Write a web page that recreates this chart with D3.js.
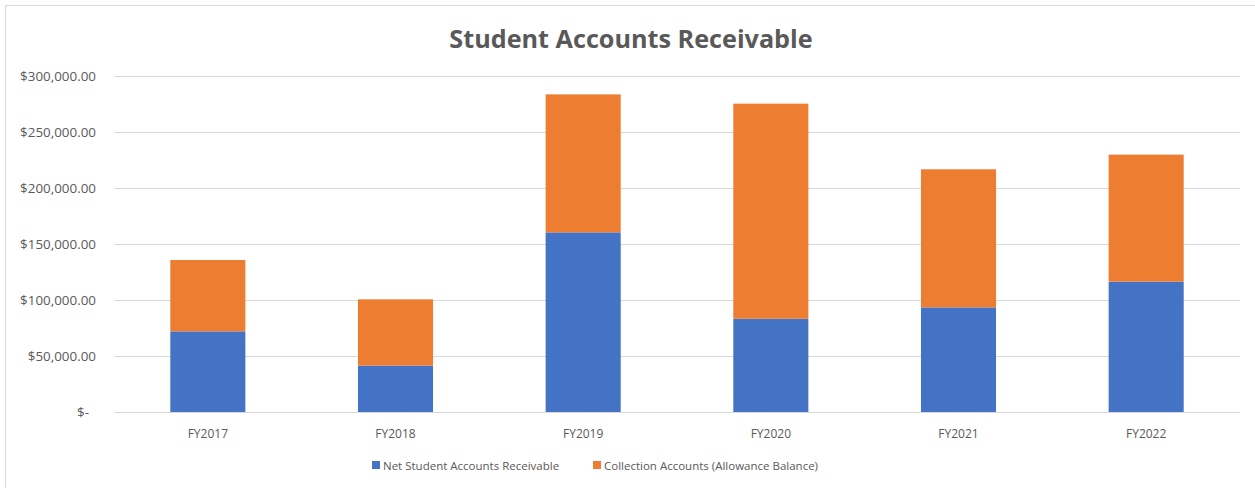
<!DOCTYPE html>
<html>
<head>
<meta charset="utf-8">
<script src="https://cdn.jsdelivr.net/npm/d3@7"></script>
<style>
  body { margin: 0; background: #fff; }
  text { font-family: "Open Sans", "Liberation Sans", sans-serif; fill: #595959; }
</style>
</head>
<body>
<div id="chart"></div>
<script>
const years = ["FY2017", "FY2018", "FY2019", "FY2020", "FY2021", "FY2022"];
const netReceivable = [72000, 41400, 160400, 83300, 93400, 116400];
const collectionAccounts = [63700, 59200, 123200, 192000, 123300, 113400];
const seriesNames = ["Net Student Accounts Receivable", "Collection Accounts (Allowance Balance)"];
const seriesColors = ["#4472c4", "#ed7d31"];
const yTicks = [0, 50000, 100000, 150000, 200000, 250000, 300000];

const width = 1255;
const height = 488;
const margin = { top: 76, right: 15, bottom: 76, left: 114 };

const svg = d3.select("#chart")
    .append("svg")
    .attr("width", width)
    .attr("height", height);

// chart frame (only left/top edges show in the crop)
svg.append("rect")
    .attr("x", 5.5)
    .attr("y", 5.5)
    .attr("width", width + 20)
    .attr("height", height + 20)
    .attr("fill", "none")
    .attr("stroke", "#d9d9d9");

const x = d3.scaleBand()
    .domain(years)
    .range([margin.left, width - margin.right])
    .paddingInner(0.6)
    .paddingOuter(0.3);

const y = d3.scaleLinear()
    .domain([0, 300000])
    .range([height - margin.bottom, margin.top]);

// --- gridlines ---
svg.append("g")
    .selectAll("line")
    .data(yTicks)
    .enter()
    .append("line")
    .attr("x1", margin.left)
    .attr("x2", width - margin.right)
    .attr("y1", d => Math.round(y(d)) + 0.5)
    .attr("y2", d => Math.round(y(d)) + 0.5)
    .attr("stroke", "#d9d9d9")
    .attr("stroke-width", 1);

// --- y axis labels ---
const fmt = d3.format(",.2f");
const yAxis = svg.append("g")
    .attr("transform", `translate(${margin.left - 18},0)`)
    .call(d3.axisLeft(y)
        .tickValues(yTicks)
        .tickSize(0)
        .tickFormat(d => d === 0 ? "$-" : "$" + fmt(d)));
yAxis.select(".domain").remove();
yAxis.selectAll("text")
    .attr("x", d => d === 0 ? -7 : 0)
    .style("font-size", "13.4px")
    .style("fill", "#595959");

// --- stacked bars ---
const rows = years.map((yr, i) => ({ year: yr, net: netReceivable[i], coll: collectionAccounts[i] }));
const stack = d3.stack().keys(["net", "coll"])(rows);

svg.append("g")
    .selectAll("g")
    .data(stack)
    .enter()
    .append("g")
    .attr("fill", (d, i) => seriesColors[i])
    .selectAll("rect")
    .data(d => d)
    .enter()
    .append("rect")
    .attr("x", d => x(d.data.year))
    .attr("width", x.bandwidth())
    .attr("y", d => y(d[1]))
    .attr("height", d => y(d[0]) - y(d[1]));

// --- x axis labels ---
svg.append("g")
    .selectAll("text")
    .data(years)
    .enter()
    .append("text")
    .attr("x", d => x(d) + x.bandwidth() / 2)
    .attr("y", height - margin.bottom + 26)
    .attr("text-anchor", "middle")
    .style("font-size", "12px")
    .text(d => d);

// --- title ---
svg.append("text")
    .attr("x", 631)
    .attr("y", 48)
    .attr("text-anchor", "middle")
    .style("font-size", "25.2px")
    .style("font-weight", "bold")
    .text("Student Accounts Receivable");

// --- legend ---
const legendX = [372, 593];
const legend = svg.append("g")
    .selectAll("g")
    .data(seriesNames)
    .enter()
    .append("g")
    .attr("transform", (d, i) => `translate(${legendX[i]},461)`);

legend.append("rect")
    .attr("width", 8)
    .attr("height", 8)
    .attr("fill", (d, i) => seriesColors[i]);

legend.append("text")
    .attr("x", 11)
    .attr("y", 8.5)
    .style("font-size", "11.5px")
    .text(d => d);
</script>
</body>
</html>
